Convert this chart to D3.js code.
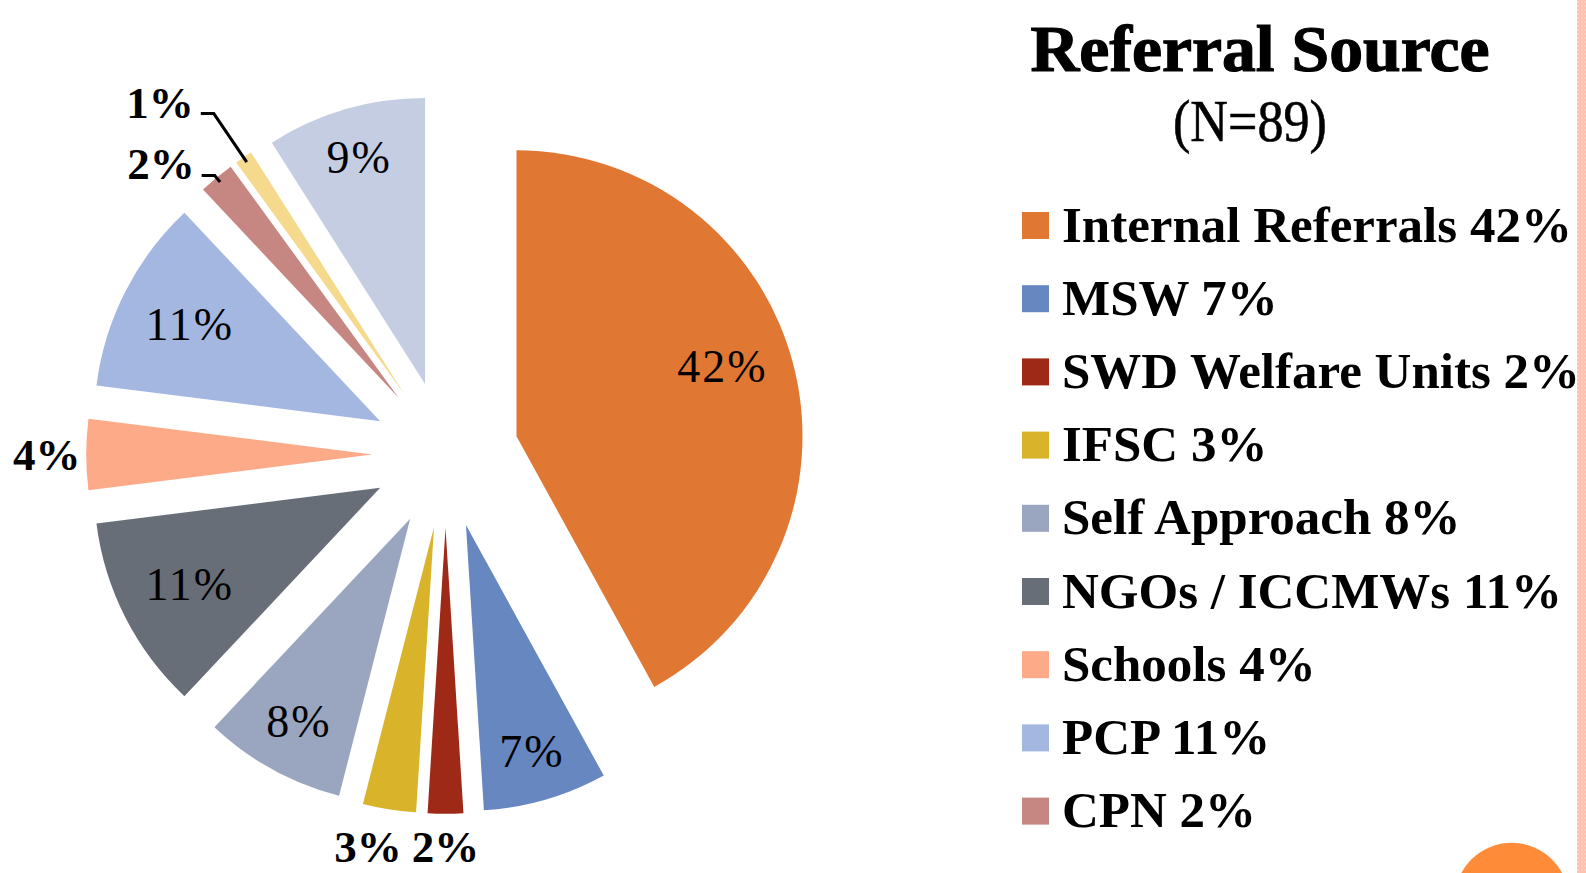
<!DOCTYPE html>
<html>
<head>
<meta charset="utf-8">
<script src="https://cdn.jsdelivr.net/npm/d3@7"></script>
<style>
  html, body { margin: 0; padding: 0; background: #fff; }
  svg { display: block; }
</style>
</head>
<body>
<div id="chart"></div>
<script>
// referral sources, in pie order (clockwise from 12 o'clock)
const categories = ["Internal Referrals", "MSW", "SWD Welfare Units", "IFSC", "Self Approach",
    "NGOs / ICCMWs", "Schools", "PCP", "CPN", "Other (1%)", "Other (9%)"];
const percents = [42, 7, 2, 3, 8, 11, 4, 11, 2, 1, 9];
const colors = ["#E07733", "#6787C1", "#9E2916", "#D9B42A", "#9AA5BF",
    "#686E78", "#FDAA89", "#A4B7E0", "#C68783", "#F5D98C", "#C4CDE2"];
// the slide's legend runs off the bottom after the ninth entry
const legendCount = 9;
const title = "Referral Source";
const subtitle = "(N=89)";

const svgWidth = 1586;
const svgHeight = 873;

// pie layout
const cx = 445.5, cy = 454.5;
const R = 286;
const explode = 73.3;
const serif = "'Liberation Serif', 'Times New Roman', serif";

// the two crowded little slices get leader lines, these say how far out the elbow sits
const leaderReach = { "CPN": 1.01, "Other (1%)": 1.185 };

const svg = d3.select("#chart")
    .append("svg")
    .attr("width", svgWidth)
    .attr("height", svgHeight);

const data = categories.map((c, i) => ({ name: c, value: percents[i], color: colors[i] }));

const pie = d3.pie().sort(null).value(d => d.value);
const arc = d3.arc().innerRadius(0).outerRadius(R);
const slices = pie(data);

// unit vector for an angle (d3 angles start at 12 o'clock, clockwise)
function dir(a) { return [Math.sin(a), -Math.cos(a)]; }

slices.forEach(s => {
    s.u = dir((s.startAngle + s.endAngle) / 2);
    s.tip = [s.u[0] * explode, s.u[1] * explode];
});

const pieG = svg.append("g").attr("transform", `translate(${cx},${cy})`);

pieG.selectAll(".slice")
    .data(slices)
    .enter()
    .append("path")
    .attr("class", "slice")
    .attr("d", arc)
    .attr("fill", d => d.data.color)
    .attr("transform", d => `translate(${d.tip[0]},${d.tip[1]})`);

// data labels
const innerSize = 46, outerSize = 45;
const labelG = pieG.append("g");
const outerBoxes = [];

slices.forEach(s => {
    const inside = s.data.value >= 5;
    const fs = inside ? innerSize : outerSize;
    const t = labelG.append("text")
        .text(s.data.value + "%")
        .attr("font-family", serif)
        .attr("font-size", fs)
        .attr("font-weight", inside ? "normal" : "bold")
        .attr("letter-spacing", inside ? 2 : 0)
        .attr("fill", "#000");
    const w = t.node().getComputedTextLength();
    const [ux, uy] = s.u;

    if (inside) {
        // push the label out until its box touches ~0.91R
        const h = 0.68 * fs;
        const ext = Math.abs(ux) * w / 2 + Math.abs(uy) * h / 2;
        const d = 0.91 * R - ext;
        // the big slice's label sits a little above its bisector, as on the slide
        const lift = s.data.value > 30 ? -17 : 0;
        t.attr("text-anchor", "middle")
            .attr("x", s.tip[0] + ux * d)
            .attr("y", s.tip[1] + uy * d + 0.34 * fs + lift);
    } else if (leaderReach[s.data.name]) {
        const k = leaderReach[s.data.name];
        const ex = s.tip[0] + ux * k * R, ey = s.tip[1] + uy * k * R;
        const endPt = [s.tip[0] + ux * 0.98 * R, s.tip[1] + uy * 0.98 * R];
        t.attr("text-anchor", "end")
            .attr("x", ex - 20)
            .attr("y", ey + 4);
        labelG.append("path")
            .attr("d", d3.line()([[ex - 13, ey], [ex, ey], endPt]))
            .attr("fill", "none")
            .attr("stroke", "#000")
            .attr("stroke-width", 3);
    } else {
        const h = 1.2 * fs;
        const ext = Math.abs(ux) * w / 2 + Math.abs(uy) * h / 2;
        const d = 1.02 * R + ext;
        const x = s.tip[0] + ux * d, y = s.tip[1] + uy * d;
        outerBoxes.push({ t, x, y, w, h });
    }
});

// keep neighbouring outside labels apart
outerBoxes.sort((a, b) => b.x - a.x);
for (let i = 1; i < outerBoxes.length; i++) {
    const a = outerBoxes[i - 1], b = outerBoxes[i];
    const gap = 10;
    if (Math.abs(a.y - b.y) < (a.h + b.h) / 2) {
        const over = (b.x + b.w / 2 + gap) - (a.x - a.w / 2);
        if (over > 0) b.x -= over;
    }
}
outerBoxes.forEach(o => {
    o.t.attr("text-anchor", "middle")
        .attr("x", o.x)
        .attr("y", o.y + 0.34 * outerSize);
});

// title
svg.append("text")
    .text(title)
    .attr("x", 1260)
    .attr("y", 71)
    .attr("text-anchor", "middle")
    .attr("font-family", serif)
    .attr("font-weight", "bold")
    .attr("font-size", 66)
    .attr("stroke", "#000")
    .attr("stroke-width", 1.2)
    .attr("textLength", 459)
    .attr("lengthAdjust", "spacingAndGlyphs");

svg.append("text")
    .text(subtitle)
    .attr("x", 1250 - 77)
    .attr("y", 141)
    .attr("font-family", serif)
    .attr("font-size", 60)
    .attr("stroke", "#000")
    .attr("stroke-width", 0.6)
    .attr("textLength", 154)
    .attr("lengthAdjust", "spacingAndGlyphs");

// legend
const legendRows = data.slice(0, legendCount);
const rowY = d3.scaleLinear().domain([0, legendCount - 1]).range([225.5, 225.5 + 73.2 * (legendCount - 1)]);

const legend = svg.append("g").attr("class", "legend");
const rows = legend.selectAll(".row")
    .data(legendRows)
    .enter()
    .append("g")
    .attr("class", "row")
    .attr("transform", (d, i) => `translate(0,${rowY(i)})`);

rows.append("rect")
    .attr("x", 1022)
    .attr("y", -13.5)
    .attr("width", 27)
    .attr("height", 27)
    .attr("fill", d => d.color);

rows.append("text")
    .text(d => `${d.name} ${d.value}%`)
    .attr("x", 1062)
    .attr("y", 16)
    .attr("font-family", serif)
    .attr("font-weight", "bold")
    .attr("font-size", 51)
    .attr("fill", "#000");

// slide decoration: dotted salmon strip on the right edge and the orange disc
const defs = svg.append("defs");
const pat = defs.append("pattern")
    .attr("id", "dots")
    .attr("width", 4)
    .attr("height", 4)
    .attr("patternUnits", "userSpaceOnUse");
pat.append("rect").attr("width", 4).attr("height", 4).attr("fill", "#FFC3AD");
pat.append("circle").attr("cx", 2).attr("cy", 2).attr("r", 0.7).attr("fill", "#FFE6DC");

svg.append("rect")
    .attr("x", 1577)
    .attr("y", 0)
    .attr("width", 9)
    .attr("height", svgHeight)
    .attr("fill", "url(#dots)");

svg.append("circle")
    .attr("cx", 1511.7)
    .attr("cy", 900)
    .attr("r", 57.2)
    .attr("fill", "#FD8B38");
</script>
</body>
</html>
